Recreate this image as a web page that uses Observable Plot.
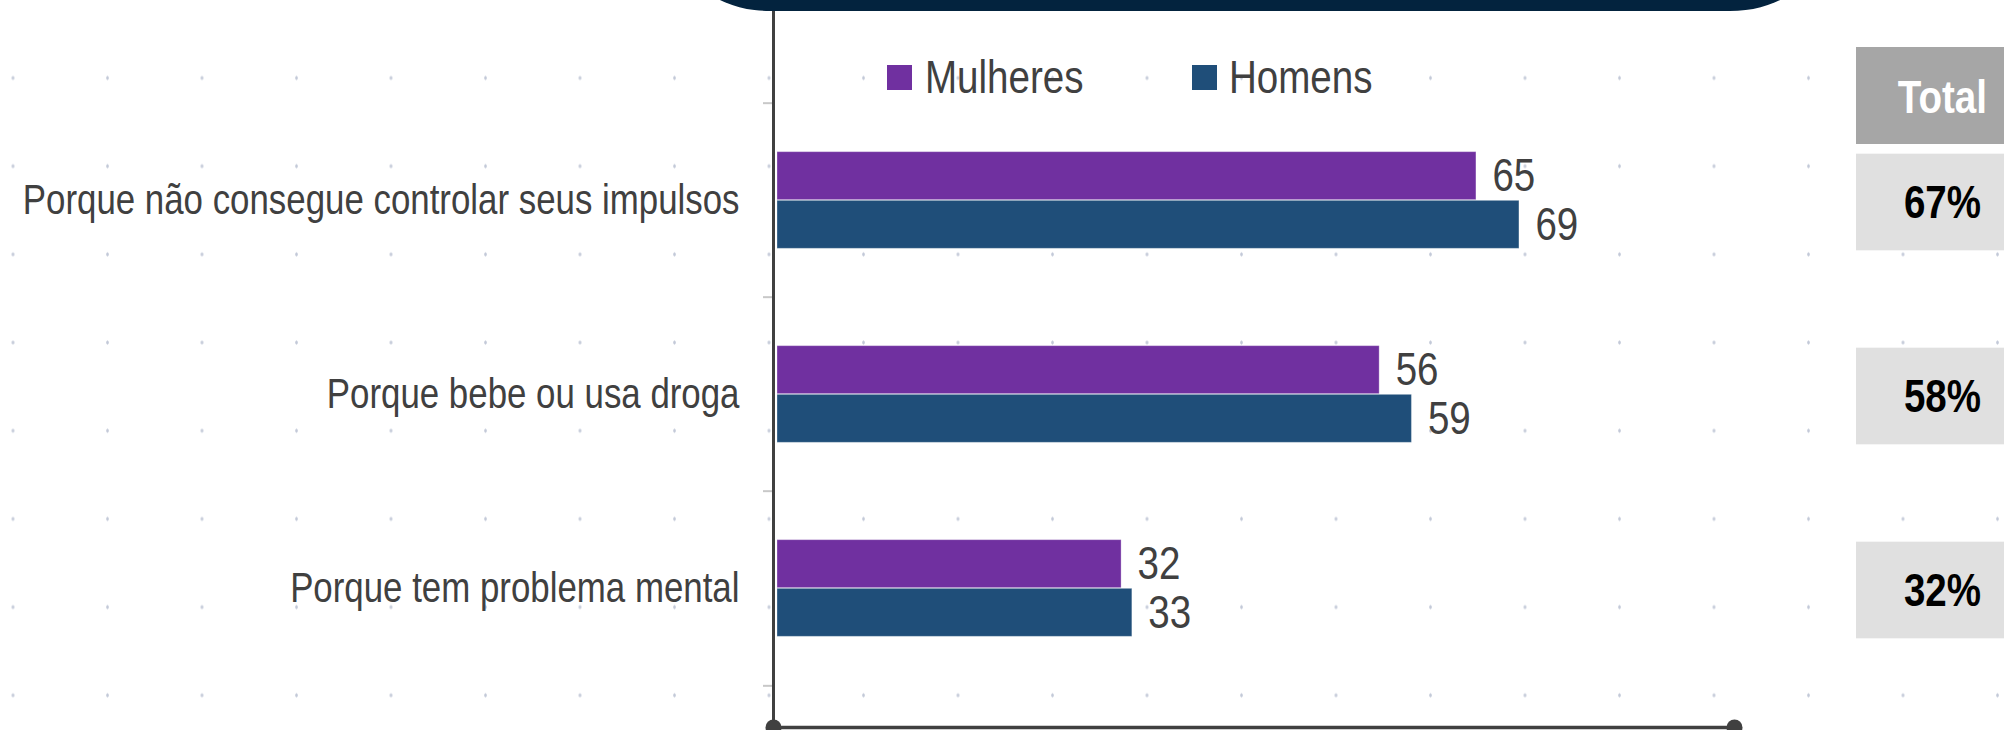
<!DOCTYPE html>
<html>
<head>
<meta charset="utf-8">
<script src="https://cdn.jsdelivr.net/npm/d3@7"></script>
<script src="https://cdn.jsdelivr.net/npm/@observablehq/plot@0.6"></script>
<style>
  html, body { margin: 0; padding: 0; background: #fff; }
  body { width: 2004px; height: 730px; overflow: hidden; position: relative;
         font-family: "Liberation Sans", Arial, sans-serif; }
  #bg { position: absolute; left: 0; top: 0; width: 2004px; height: 730px;
        background-image: radial-gradient(ellipse 1.6px 2.6px at 50% 50%, #c3c9d8 0%, #c3c9d8 55%, rgba(195,201,216,0) 100%);
        background-size: 94.5px 88.2px; background-position: -34.25px 33.9px; }
  #banner { position: absolute; left: 690px; top: -50px; width: 1120px; height: 61px; background: #03233e;
            border-radius: 0 0 80px 80px / 0 0 50px 50px; }
  .abs { position: absolute; }
  .sw { position: absolute; width: 25px; height: 25px; }
  .lt { position: absolute; font-size: 47px; line-height: 47px; color: #404040; white-space: nowrap;
        transform: scaleX(0.82); transform-origin: 0 50%; }
  #totalHead { position: absolute; left: 1856px; top: 47px; width: 172px; height: 97px; background: #a6a6a6;
               color: #fff; font-weight: bold; font-size: 47px; line-height: 100px; text-align: center; }
  #totalHead span { display: inline-block; transform: scaleX(0.82); transform-origin: 50% 50%; }
  #totals { position: absolute; left: 1856px; top: 0; width: 172px; height: 730px; }
  #totals svg { max-width: none; }
</style>
</head>
<body>
<div id="bg"></div>
<div id="main" class="abs" style="left:0;top:0;width:2004px;height:730px"></div>
<div id="banner"></div>
<div id="legend"></div>
<div id="totalHead"><span>Total</span></div>
<div id="totals"></div>
<script>
const categories = [
  "Porque não consegue controlar seus impulsos",
  "Porque bebe ou usa droga",
  "Porque tem problema mental"
];
const seriesNames = ["Mulheres", "Homens"];
const mulheres = [65, 56, 32];
const homens = [69, 59, 33];
const totals = [67, 58, 32];
const colors = ["#7030A0", "#1F4E79"];

const FONT = '"Liberation Sans", Arial, sans-serif';
const SQUEEZE = 0.82;

const rowsM = categories.map((c, i) => ({category: c, value: mulheres[i]}));
const rowsH = categories.map((c, i) => ({category: c, value: homens[i]}));
const rowsT = categories.map((c, i) => ({category: c, total: totals[i]}));

const half = 194.67 / 4;

function condense(svg, k) {
  svg.querySelectorAll("text").forEach(t => {
    let ax = parseFloat(t.getAttribute("x"));
    if (isNaN(ax)) {
      const ts = t.querySelector("tspan[x]");
      ax = ts ? parseFloat(ts.getAttribute("x")) : 0;
      if (isNaN(ax)) ax = 0;
    }
    const tr = t.getAttribute("transform") || "";
    t.setAttribute("transform", `${tr} translate(${ax},0) scale(${k},1) translate(${-ax},0)`.trim());
  });
}

const chart = Plot.plot({
  width: 2004, height: 730,
  marginLeft: 773, marginRight: 270, marginTop: 0, marginBottom: 3,
  style: {background: "transparent", fontFamily: FONT, color: "#404040", overflow: "visible"},
  x: {domain: [0, 89], range: [777, 1734], axis: null},
  y: {domain: categories, range: [102, 686], padding: 0, axis: null},
  marks: [
    Plot.axisY({anchor: "left", label: null, tickSize: 0, tickPadding: 34, fontSize: 42.5, fill: "#404040"}),
    Plot.axisY({anchor: "left", label: null, tickSize: 10, tickFormat: () => "", dy: -2 * half, stroke: "#c8c8c8", strokeWidth: 2}),
    Plot.axisY({anchor: "left", label: null, ticks: [categories[categories.length - 1]], tickSize: 10, tickFormat: () => "", dy: 2 * half, stroke: "#c8c8c8", strokeWidth: 2}),
    Plot.barX(rowsM, {x: "value", y: "category", fill: colors[0], insetTop: half, insetBottom: 2 * half,
      stroke: "#ffffff", strokeOpacity: 0.3, strokeWidth: 1}),
    Plot.barX(rowsH, {x: "value", y: "category", fill: colors[1], insetTop: 2 * half, insetBottom: half,
      stroke: "#ffffff", strokeOpacity: 0.3, strokeWidth: 1}),
    Plot.text(rowsM, {x: "value", y: "category", text: d => String(d.value), textAnchor: "start",
      dx: 16, dy: -half / 2, fontSize: 47, fill: "#404040"}),
    Plot.text(rowsH, {x: "value", y: "category", text: d => String(d.value), textAnchor: "start",
      dx: 16, dy: half / 2, fontSize: 47, fill: "#404040"}),
    Plot.frame({anchor: "left", stroke: "#404040", strokeWidth: 3}),
    Plot.frame({anchor: "bottom", stroke: "#404040", strokeWidth: 3.5}),
    Plot.dot([0], {frameAnchor: "bottom-left", r: 8, fill: "#404040"}),
    Plot.dot([0], {frameAnchor: "bottom-right", r: 8, fill: "#404040"})
  ]
});
condense(chart, SQUEEZE);
document.getElementById("main").appendChild(chart);

const totalChart = Plot.plot({
  width: 172, height: 730, margin: 0,
  style: {background: "transparent", fontFamily: FONT, overflow: "visible", maxWidth: "none"},
  x: {domain: ["Total"], range: [0, 172], padding: 0, axis: null},
  y: {domain: categories, range: [104, 688], padding: 0, axis: null},
  marks: [
    Plot.cell(rowsT, {x: () => "Total", y: "category", fill: "#e0e0e0", insetTop: half, insetBottom: half}),
    Plot.text(rowsT, {x: () => "Total", y: "category", text: d => d.total + "%", fontSize: 47, fontWeight: "bold", fill: "#000"})
  ]
});
condense(totalChart, SQUEEZE);
document.getElementById("totals").appendChild(totalChart);

// legend
const legend = document.getElementById("legend");
const swX = [887, 1192];
const txX = [925, 1229];
seriesNames.forEach((name, i) => {
  const sw = document.createElement("div");
  sw.className = "sw";
  sw.style.left = swX[i] + "px"; sw.style.top = "65px"; sw.style.background = colors[i];
  legend.appendChild(sw);
  const t = document.createElement("div");
  t.className = "lt";
  t.style.left = txX[i] + "px"; t.style.top = "53px";
  t.textContent = name;
  legend.appendChild(t);
});
</script>
</body>
</html>
